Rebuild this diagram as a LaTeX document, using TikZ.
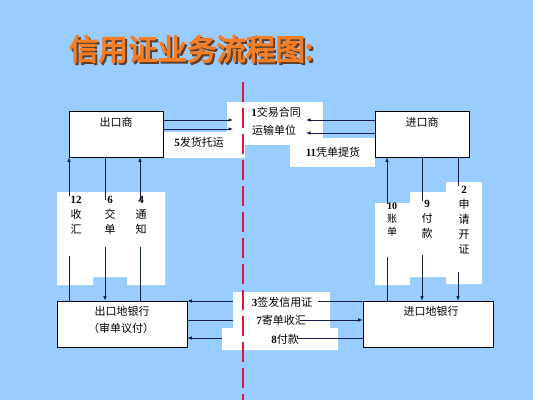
\documentclass[tikz,border=0pt]{standalone}
\usepackage{fontspec}
\setmainfont{Noto Sans CJK SC}
\newfontfamily\nm{Liberation Serif}
\newfontfamily\titlefont{Noto Sans CJK SC}[FakeBold=4]
\usetikzlibrary{arrows.meta}
\definecolor{bg}{RGB}{153,204,255}
\definecolor{ln}{RGB}{20,30,70}
\definecolor{rd}{RGB}{220,25,55}
\definecolor{tor}{RGB}{245,125,35}
\definecolor{tsh}{RGB}{95,65,45}
\newcommand\nb[1]{{\nm\bfseries #1}}
\newcommand\labfont{\fontsize{11}{15}\selectfont}
\newcommand\titletext{信用证业务流程图:}
\begin{document}
\begin{tikzpicture}[x=1pt,y=-1pt,
  box/.style={draw=black, fill=white, line width=0.6pt, inner sep=0pt},
  arr/.style={draw=ln, line width=0.7pt, -{Latex[length=4.5pt,width=3.5pt]}},
  lab/.style={inner sep=0pt, font=\labfont, text=black},
  vlab/.style={inner sep=0pt, font=\labfont, text=black, align=center, anchor=north},
  mask/.style={fill=white}]
\fill[bg] (0,0) rectangle (533,400);
\useasboundingbox (0,0) rectangle (533,400);

% title with shadow, one node
\node[font=\titlefont\fontsize{29.5}{32}\selectfont, inner sep=0pt] (title) at (191,50)
  {\makebox[0pt][l]{\kern2pt\raisebox{-2pt}{\color{tsh}\titletext}}\color{tor}\titletext};

% white text backgrounds
\fill[white] (227,102) rectangle (323,145);
\fill[white] (159,132) rectangle (245,158);
\fill[white] (290,138) rectangle (375,167);
\fill[white] (57,192) -- (165,192) -- (165,285) -- (127,285) -- (127,277) -- (93,277) -- (93,285) -- (57,285) -- cycle;
\fill[white] (375,203) -- (410,203) -- (410,192) -- (446,192) -- (446,182) -- (482,182) -- (482,284) -- (446,284) -- (446,277) -- (410,277) -- (410,285) -- (375,285) -- cycle;
\fill[white] (233,292) -- (330,292) -- (330,328) -- (338,328) -- (338,350) -- (222,350) -- (222,328) -- (233,328) -- cycle;

% boxes
\node[box, minimum width=94pt, minimum height=46pt] (exp) at (116,134) {};
\node[box, minimum width=94pt, minimum height=46pt] (imp) at (422,134) {};
\node[box, minimum width=130pt, minimum height=46pt] (exb) at (122,324) {};
\node[box, minimum width=130pt, minimum height=46pt] (imb) at (428,324) {};
\node[lab] (expt) at (116,122) {出口商};
\node[lab] (impt) at (422,122) {进口商};
\node[lab] (exbt1) at (122,311) {出口地银行};
\node[lab] (exbt2) at (121,328) {（审单议付）};
\node[lab] (imbt) at (431,311) {进口地银行};

% coordinates
\coordinate (a1) at (233,120);
\coordinate (a5) at (233,129);
\coordinate (b1) at (306,120);
\coordinate (b11) at (306,133);
\coordinate (v12) at (69,0);
\coordinate (v6) at (105,0);
\coordinate (v4) at (140,0);
\coordinate (v10) at (387,0);
\coordinate (v9) at (422,0);
\coordinate (v2) at (458,0);
\coordinate (h3) at (0,301);
\coordinate (h7) at (0,320);
\coordinate (h8) at (0,338);

% top arrows
\draw[arr] (exp.east |- a1) -- (a1);
\draw[arr] (exp.east |- a5) -- (a5);
\draw[arr] (imp.west |- b1) -- (b1);
\draw[arr] (imp.west |- b11) -- (b11);

% vertical arrows
\draw[arr] (exb.north -| v12) -- (exp.south -| v12);
\draw[arr] (exp.south -| v6) -- (exb.north -| v6);
\draw[arr] (exb.north -| v4) -- (exp.south -| v4);
\draw[arr] (imb.north -| v10) -- (imp.south -| v10);
\draw[arr] (imp.south -| v9) -- (imb.north -| v9);
\draw[arr] (imp.south -| v2) -- (imb.north -| v2);

% bottom arrows
\draw[arr] (imb.west |- h3) -- (exb.east |- h3);
\draw[arr] (exb.east |- h7) -- (imb.west |- h7);
\draw[arr] (imb.west |- h8) -- (exb.east |- h8);

% masks
\fill[mask] (64,196) rectangle (88,256);
\fill[mask] (99,200) rectangle (121,247);
\fill[mask] (132,200) rectangle (150,247);
\fill[mask] (381,204) rectangle (403,257);
\fill[mask] (416,201) rectangle (440,255);
\fill[mask] (452,186) rectangle (476,272);
\fill[mask] (233,294) rectangle (318,309);
\fill[mask] (233,312) rectangle (300,328);
\fill[mask] (222,330) rectangle (297,346);

% labels
\node[lab] (l1) at (276,112) {\nb{1}交易合同};
\node[lab] (l1b) at (274,130) {运输单位};
\node[lab] (l5) at (199,142) {\nb{5}发货托运};
\node[lab] (l11) at (333,152) {\nb{11}凭单提货};
\node[vlab] (t12) at (76,196) {\nb{12}\\收\\汇};
\node[vlab] (t6) at (110,196) {\nb{6}\\交\\单};
\node[vlab] (t4) at (141,196) {\nb{4}\\通\\知};
\node[vlab, font=\fontsize{10}{13}\selectfont] (t10) at (392,203) {\nb{10}\\账\\单};
\node[vlab] (t9) at (427,200) {\nb{9}\\付\\款};
\node[vlab] (t2) at (464,186) {\nb{2}\\申\\请\\开\\证};
\node[lab] (l3) at (282,302) {\nb{3}签发信用证};
\node[lab] (l7) at (281,320) {\nb{7}寄单收汇};
\node[lab] (l8) at (285,339) {\nb{8}付款};

% red dashed divider
\coordinate (rtop) at (243,82);
\coordinate (rbot) at (243,400);
\draw[rd, line width=2.6pt, dash pattern=on 20pt off 6pt] (rtop) -- (rbot);
\end{tikzpicture}
\end{document}
